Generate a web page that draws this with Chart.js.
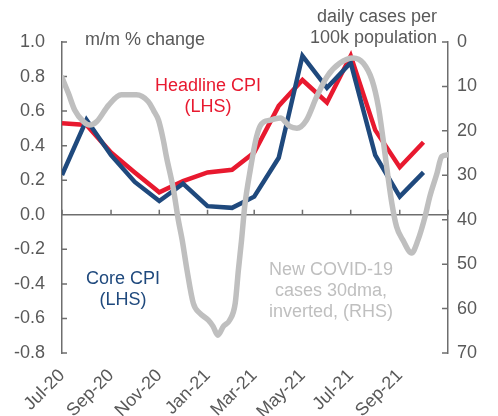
<!DOCTYPE html>
<html>
<head>
<meta charset="utf-8">
<script src="https://cdn.jsdelivr.net/npm/chart.js@4/dist/chart.umd.min.js"></script>
<style>
  html, body { margin:0; padding:0; background:#fff; }
  #wrap { width:498px; height:416px; }
</style>
</head>
<body>
<div id="wrap"><canvas id="cpiChart" width="498" height="416"></canvas></div>
<script>
// ----- data -----
const START = "2020-07-01";
const cpiMonths = ["2020-07-01","2020-08-01","2020-09-01","2020-10-01","2020-11-01","2020-12-01",
  "2021-01-01","2021-02-01","2021-03-01","2021-04-01","2021-05-01","2021-06-01",
  "2021-07-01","2021-08-01","2021-09-01","2021-10-01"];
const headlineCpi = [0.53, 0.52, 0.36, 0.245, 0.13, 0.195, 0.245, 0.26, 0.36, 0.63, 0.78, 0.65, 0.92, 0.49, 0.275, 0.42];
const coreCpi     = [0.23, 0.55, 0.345, 0.19, 0.08, 0.18, 0.05, 0.04, 0.105, 0.33, 0.92, 0.735, 0.88, 0.345, 0.105, 0.245];

// covid daily cases per 100k, 30dma
const covidDates = ["2020-07-01","2020-07-09","2020-07-17","2020-07-28","2020-08-05","2020-08-14","2020-08-29",
  "2020-09-14","2020-10-03","2020-10-18","2020-10-25","2020-10-31","2020-11-06","2020-11-10","2020-11-19",
  "2020-11-25","2020-11-30","2020-12-06","2020-12-14","2020-12-22","2021-01-02","2021-01-08","2021-01-14",
  "2021-01-21","2021-01-29","2021-02-05","2021-02-09","2021-02-13","2021-02-17","2021-02-24","2021-03-04",
  "2021-03-10","2021-03-21","2021-04-03","2021-04-15","2021-04-24","2021-05-06","2021-05-19","2021-06-01",
  "2021-06-17","2021-07-04","2021-07-17","2021-07-28","2021-08-05","2021-08-11","2021-08-16","2021-08-22",
  "2021-08-28","2021-09-05","2021-09-16","2021-09-24","2021-10-03","2021-10-09","2021-10-18","2021-10-24",
  "2021-11-01"];
const covidCases = [8.0, 11.5, 15.3, 17.9, 18.7, 17.9, 14.2,
  11.9, 11.9, 13.4, 15.5, 17.6, 22, 25.8, 33.3,
  40, 44.6, 51.3, 58.8, 61, 62.6, 64, 66,
  64, 62.6, 58.8, 51.3, 44.6, 37, 28.8, 21.3,
  18.5, 17.6, 17.1, 19, 19.4, 17.6, 12.3, 7.8,
  4.8, 3.6, 4.8, 8.6, 14.6, 22, 28.8, 36.3,
  41.6, 44.6, 47.5, 44.6, 39.3, 34.8, 29.6, 25.8,
  25.4];

const tickDates  = ["2020-07-01","2020-09-01","2020-11-01","2021-01-01","2021-03-01","2021-05-01","2021-07-01","2021-09-01","2021-11-01"];
const tickLabels = ["Jul-20","Sep-20","Nov-20","Jan-21","Mar-21","May-21","Jul-21","Sep-21",""];

// ----- helpers -----
function dayNum(s){ return Math.round((Date.parse(s) - Date.parse(START)) / 86400000); }
const tickDays = tickDates.map(dayNum);
const FONT = "'Liberation Sans', Arial, sans-serif";
const TXT = "#595959";
const AXIS = "#6e6e6e";
const RED = "#e8192f", BLUE = "#1f497d", GREY = "#bfbfbf";

// ----- axis decorations + text -----
const decoPlugin = {
  id: "deco",
  beforeDatasetsDraw(chart){
    const {ctx, chartArea:a, scales:{x, y, y2}} = chart;
    const y0 = y.getPixelForValue(0);
    ctx.save();
    ctx.strokeStyle = AXIS; ctx.lineWidth = 1.5;
    ctx.beginPath();
    ctx.moveTo(a.left, y0); ctx.lineTo(a.right, y0);
    x.ticks.forEach(t => { const px = x.getPixelForValue(t.value); ctx.moveTo(px, y0); ctx.lineTo(px, y0 - 5); });
    y.ticks.forEach(t => { const py = y.getPixelForValue(t.value); ctx.moveTo(a.left, py); ctx.lineTo(a.left + 5, py); });
    y2.ticks.forEach(t => { const py = y2.getPixelForValue(t.value); ctx.moveTo(a.right, py); ctx.lineTo(a.right - 6, py); });
    ctx.stroke();
    ctx.restore();
  },
  afterDatasetsDraw(chart){
    const ctx = chart.ctx;
    ctx.save();
    ctx.font = "18px " + FONT;
    ctx.textBaseline = "middle";
    function txt(lines, x, y, color, align){
      ctx.fillStyle = color; ctx.textAlign = align || "center";
      lines.forEach((l, i) => ctx.fillText(l, x, y + i * 21));
    }
    txt(["m/m % change"], 145, 40, TXT);
    txt(["daily cases per", "100k population"], 437, 17, TXT, "right");
    txt(["Headline CPI", "(LHS)"], 208, 86, RED);
    txt(["Core CPI", "(LHS)"], 123, 279, BLUE);
    txt(["New COVID-19", "cases 30dma,", "inverted, (RHS)"], 331, 270, GREY);
    ctx.restore();
  }
};

// ----- chart -----
new Chart(document.getElementById("cpiChart"), {
  type: "line",
  data: {
    datasets: [
      { label:"New COVID-19 cases 30dma, inverted", yAxisID:"y2",
        data: covidDates.map((d,i) => ({x: dayNum(d), y: covidCases[i]})),
        borderColor: GREY, borderWidth: 5.5, cubicInterpolationMode: "monotone",
        borderJoinStyle:"round", borderCapStyle:"round" },
      { label:"Core CPI", yAxisID:"y",
        data: cpiMonths.map((d,i) => ({x: dayNum(d), y: coreCpi[i]})),
        borderColor: BLUE, borderWidth: 4.5, borderJoinStyle:"miter" },
      { label:"Headline CPI", yAxisID:"y",
        data: cpiMonths.map((d,i) => ({x: dayNum(d), y: headlineCpi[i]})),
        borderColor: RED, borderWidth: 4.5, borderJoinStyle:"miter" }
    ]
  },
  options: {
    responsive: false,
    animation: false,
    layout: { padding: { top: 42, left: 0, right: 0, bottom: 0 } },
    elements: { point: { radius: 0 } },
    plugins: { legend: { display:false }, tooltip: { enabled:false } },
    scales: {
      x: {
        type: "linear", min: tickDays[0], max: tickDays[tickDays.length - 1],
        afterBuildTicks: s => { s.ticks = tickDays.map(v => ({ value: v })); },
        afterFit: s => { s.height = 63; },
        ticks: {
          autoSkip: false, minRotation: 45, maxRotation: 45, padding: 4,
          color: TXT, font: { family: FONT, size: 18 },
          callback: v => { const i = tickDays.indexOf(v); return i >= 0 ? tickLabels[i] : ""; }
        },
        grid: { display: false },
        border: { display: false }
      },
      y: {
        position: "left", min: -0.8, max: 1.0,
        afterFit: s => { s.width = 62; },
        ticks: { stepSize: 0.2, padding: 17, color: TXT, font: { family: FONT, size: 18 },
          callback: v => v.toFixed(1) },
        grid: { drawOnChartArea: false, drawTicks: false },
        border: { display: true, color: AXIS, width: 1.5 }
      },
      y2: {
        position: "right", reverse: true, min: 0, max: 70,
        afterFit: s => { s.width = 50; },
        ticks: { stepSize: 10, padding: 9, color: TXT, font: { family: FONT, size: 18 } },
        grid: { drawOnChartArea: false, drawTicks: false },
        border: { display: true, color: AXIS, width: 1.5 }
      }
    }
  },
  plugins: [decoPlugin]
});
</script>
</body>
</html>
